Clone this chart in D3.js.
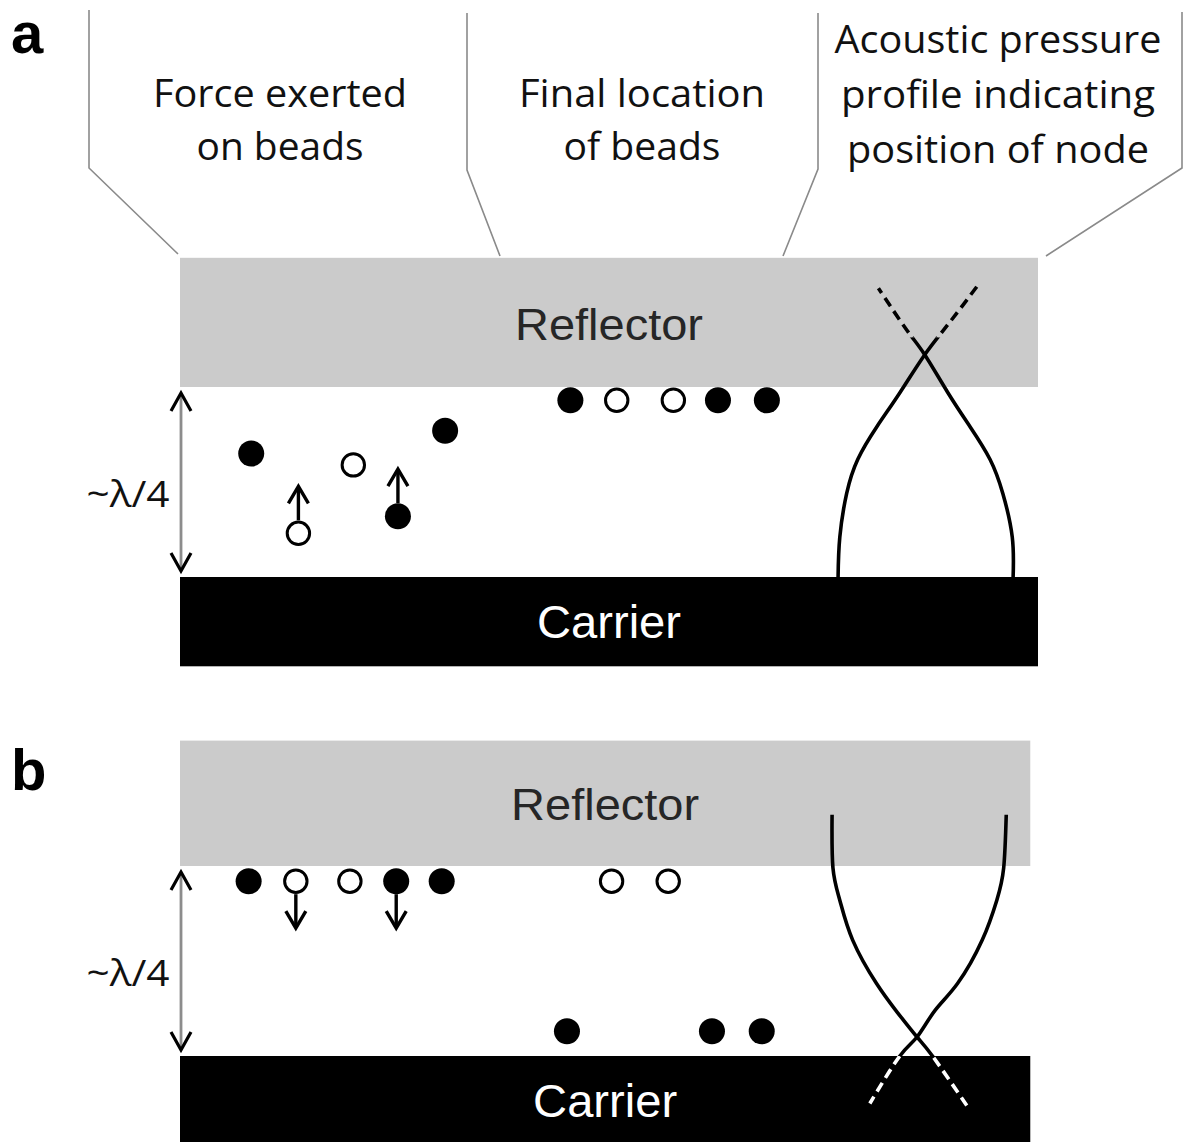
<!DOCTYPE html>
<html>
<head>
<meta charset="utf-8">
<script src="https://cdn.jsdelivr.net/npm/d3@7"></script>
<style>
  html, body { margin: 0; padding: 0; background: #fff; }
  svg { display: block; }
</style>
</head>
<body>
<svg id="fig" width="1186" height="1142"></svg>
<script>
// Beads in the channel. x = position along the channel (% of channel length),
// h = height above the carrier surface in units of λ/4,
// filled = dense bead, force = +1 pushed up, -1 pushed down, 0 none drawn.
const forceBeadsA = [
  { x: 8.3,  h: 0.65, filled: true,  force: 0 },
  { x: 13.8, h: 0.23, filled: false, force: 1 },
  { x: 20.2, h: 0.59, filled: false, force: 0 },
  { x: 25.4, h: 0.32, filled: true,  force: 1 },
  { x: 30.9, h: 0.77, filled: true,  force: 0 }
];
const finalBeadsA = [
  { x: 45.5, h: 0.93, filled: true },
  { x: 50.9, h: 0.93, filled: false },
  { x: 57.5, h: 0.93, filled: false },
  { x: 62.7, h: 0.93, filled: true },
  { x: 68.4, h: 0.93, filled: true }
];
const forceBeadsB = [
  { x: 8.0,  h: 0.92, filled: true,  force: 0 },
  { x: 13.5, h: 0.92, filled: false, force: -1 },
  { x: 19.8, h: 0.92, filled: false, force: 0 },
  { x: 25.2, h: 0.92, filled: true,  force: -1 },
  { x: 30.5, h: 0.92, filled: true,  force: 0 }
];
const finalBeadsB = [
  { x: 50.3, h: 0.92, filled: false },
  { x: 56.9, h: 0.92, filled: false },
  { x: 45.1, h: 0.13, filled: true },
  { x: 62.0, h: 0.13, filled: true },
  { x: 67.8, h: 0.13, filled: true }
];

// Acoustic pressure profiles [x, h]: two mirrored branches crossing at the node.
const profileA1 = [[76.7,0],[76.9,0.21],[77.7,0.44],[79.0,0.62],[81.2,0.79],[83.9,0.97],[86.8,1.17],[89.7,1.34],[92.9,1.53]];
const profileA2 = [[97.1,0],[97.0,0.21],[95.9,0.44],[94.4,0.62],[92.1,0.79],[89.5,0.97],[86.8,1.17],[84.7,1.30],[81.4,1.52]];
const profileB1 = [[76.0,1.27],[76.1,0.99],[76.9,0.82],[78.4,0.61],[81.2,0.38],[83.6,0.23],[85.9,0.10],[87.7,0],[91.7,-0.26]];
const profileB2 = [[96.3,1.27],[96.0,0.99],[95.2,0.82],[93.5,0.61],[90.6,0.38],[88.0,0.24],[85.9,0.10],[83.9,0],[80.4,-0.25]];

// Layer thicknesses (units of λ/4) and channel lengths (%)
const reflectorThickness = [0.68, 0.66];
const carrierThickness = [0.47, 0.50];
const channelLength = [100, 99.1];
// Height above which the profile in panel a is drawn dashed (inside the reflector)
const dashAboveA = 1.26;

// Callout headings
const headings = [
  { lines: ["Force exerted", "on beads"], widths: [254, 167] },
  { lines: ["Final location", "of beads"], widths: [246, 157] },
  { lines: ["Acoustic pressure", "profile indicating", "position of node"], widths: [327, 314, 302] }
];

const svg = d3.select("#fig");
svg.append("rect").attr("width", 1186).attr("height", 1142).attr("fill", "#fff");

const x = d3.scaleLinear().domain([0, 100]).range([180, 1038]);
const yA = d3.scaleLinear().domain([0, 1]).range([577, 387]);
const yB = d3.scaleLinear().domain([0, 1]).range([1056, 866]);

const textFont = "'Open Sans', 'Noto Sans', sans-serif";
const blockFont = "'Liberation Sans', Arial, sans-serif";

// ---- callout headings and leader lines ----
const headG = svg.append("g");
const headCenters = [280, 642, 998];
const headBaselines = [[107, 160], [107, 160], [53, 108, 163]];
headings.forEach((hd, i) => {
  hd.lines.forEach((ln, j) => {
    headG.append("text")
      .attr("x", headCenters[i]).attr("y", headBaselines[i][j])
      .attr("text-anchor", "middle")
      .attr("font-family", textFont).attr("font-size", 38)
      .attr("fill", "#111")
      .attr("textLength", hd.widths[j]).attr("lengthAdjust", "spacingAndGlyphs")
      .text(ln);
  });
});
const leaders = [
  [[89, 10], [89, 168], [178, 254]],
  [[467, 13], [467, 170], [500, 256]],
  [[818, 13], [818, 169], [783, 256]],
  [[1182, 12], [1182, 168], [1046, 256]]
];
headG.selectAll("path.leader").data(leaders).join("path")
  .attr("class", "leader")
  .attr("d", d3.line())
  .attr("fill", "none").attr("stroke", "#8a8a8a").attr("stroke-width", 1.6);

// ---- panel drawing ----
function drawPanel(opt) {
  const g = svg.append("g");
  const y = opt.y;
  const x0 = x(0), x1 = x(opt.length);

  // reflector (top) and carrier (bottom)
  g.append("rect").attr("x", x0).attr("width", x1 - x0)
    .attr("y", y(1 + opt.refl)).attr("height", y(1) - y(1 + opt.refl))
    .attr("fill", "#cbcbcb");
  g.append("rect").attr("x", x0).attr("width", x1 - x0)
    .attr("y", y(0)).attr("height", y(-opt.carr) - y(0))
    .attr("fill", "#000");

  const midX = (x0 + x1) / 2;
  g.append("text").attr("x", midX).attr("y", opt.reflBase)
    .attr("text-anchor", "middle").attr("font-family", blockFont)
    .attr("font-size", 45).attr("fill", "#262626")
    .attr("textLength", 188).attr("lengthAdjust", "spacingAndGlyphs")
    .text("Reflector");
  g.append("text").attr("x", midX).attr("y", opt.carrBase)
    .attr("text-anchor", "middle").attr("font-family", blockFont)
    .attr("font-size", 46).attr("fill", "#fff")
    .attr("textLength", 144).attr("lengthAdjust", "spacingAndGlyphs")
    .text("Carrier");

  // gap height indicator (~λ/4)
  const ax = x0 + 1, top = y(1) + 6, bot = y(0) - 6;
  g.append("line").attr("x1", ax).attr("x2", ax).attr("y1", top + 2).attr("y2", bot - 2)
    .attr("stroke", "#8c8c8c").attr("stroke-width", 2.8);
  [[top, 1], [bot, -1]].forEach(([ty, d]) => {
    g.append("path")
      .attr("d", d3.line()([[ax - 10, ty + d * 18], [ax, ty], [ax + 10, ty + d * 18]]))
      .attr("fill", "none").attr("stroke", "#000").attr("stroke-width", 3.2)
      .attr("stroke-linejoin", "miter");
  });
  g.append("text").attr("x", 128).attr("y", y(0.5) + 25)
    .attr("text-anchor", "middle").attr("font-family", textFont)
    .attr("font-size", 36).attr("fill", "#111")
    .attr("textLength", 83).attr("lengthAdjust", "spacingAndGlyphs")
    .text("~λ/4");

  // pressure profile: solid inside the gap, dashed beyond
  const line = d3.line().x(d => x(d[0])).y(d => y(d[1])).curve(d3.curveNatural);
  const id = opt.id;
  const defs = svg.append("defs");
  defs.append("clipPath").attr("id", id + "-solid").append("rect")
    .attr("x", 0).attr("width", 1186)
    .attr("y", y(opt.solidTop)).attr("height", y(opt.solidBottom) - y(opt.solidTop));
  const dashClip = defs.append("clipPath").attr("id", id + "-dash");
  dashClip.append("rect").attr("x", 0).attr("width", 1186)
    .attr("y", 0).attr("height", y(opt.solidTop));
  dashClip.append("rect").attr("x", 0).attr("width", 1186)
    .attr("y", y(opt.solidBottom)).attr("height", 1142);

  opt.profiles.forEach(p => {
    g.append("path").attr("d", line(p))
      .attr("clip-path", `url(#${id}-solid)`)
      .attr("fill", "none").attr("stroke", "#000").attr("stroke-width", 3.6);
    g.append("path").attr("d", line(p))
      .attr("clip-path", `url(#${id}-dash)`)
      .attr("fill", "none").attr("stroke", opt.dashColor).attr("stroke-width", 3.6)
      .attr("stroke-dasharray", "10,6");
  });

  // beads
  const beads = opt.beads;
  const r = 12.5;
  g.selectAll("circle.bead").data(beads).join("circle")
    .attr("class", "bead")
    .attr("cx", d => x(d.x)).attr("cy", d => y(d.h))
    .attr("r", d => d.filled ? r + 0.5 : r - 1.3)
    .attr("fill", d => d.filled ? "#000" : "#fff")
    .attr("stroke", "#000").attr("stroke-width", d => d.filled ? 0 : 3);

  // force arrows
  const arrows = beads.filter(d => d.force);
  arrows.forEach(d => {
    const cx = x(d.x), cy = y(d.h);
    const start = cy - d.force * (r + 0.5);
    const tip = start - d.force * 34;
    g.append("line").attr("x1", cx).attr("x2", cx).attr("y1", start).attr("y2", tip + d.force * 2)
      .attr("stroke", "#000").attr("stroke-width", 3.4);
    g.append("path")
      .attr("d", d3.line()([[cx - 10, tip + d.force * 17], [cx, tip], [cx + 10, tip + d.force * 17]]))
      .attr("fill", "none").attr("stroke", "#000").attr("stroke-width", 3.4);
  });

  // panel letter
  g.append("text").attr("x", 11).attr("y", opt.letterBase)
    .attr("font-family", blockFont).attr("font-weight", "bold")
    .attr("font-size", 58).attr("fill", "#000")
    .text(opt.letter);
}

drawPanel({
  id: "pa", letter: "a", letterBase: 53, y: yA,
  length: channelLength[0], refl: reflectorThickness[0], carr: carrierThickness[0],
  reflBase: 340, carrBase: 638,
  beads: forceBeadsA.concat(finalBeadsA),
  profiles: [profileA1, profileA2],
  solidTop: dashAboveA, solidBottom: -1, dashColor: "#000"
});

drawPanel({
  id: "pb", letter: "b", letterBase: 790, y: yB,
  length: channelLength[1], refl: reflectorThickness[1], carr: carrierThickness[1],
  reflBase: 820, carrBase: 1117,
  beads: forceBeadsB.concat(finalBeadsB),
  profiles: [profileB1, profileB2],
  solidTop: 3, solidBottom: 0, dashColor: "#fff"
});
</script>
</body>
</html>
